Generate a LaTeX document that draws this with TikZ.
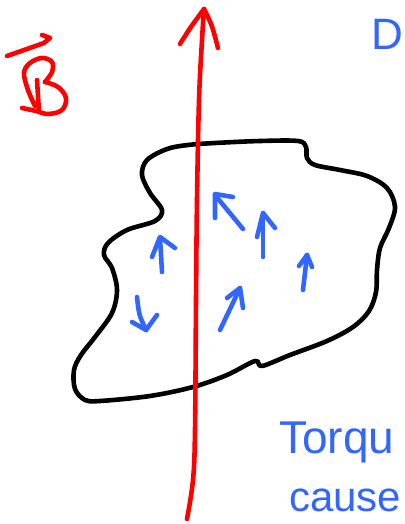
\documentclass[tikz,border=0pt]{standalone}
\usepackage{fontspec}
\setmainfont{Liberation Sans}
\definecolor{penblue}{RGB}{51,102,255}
\definecolor{penred}{RGB}{255,0,0}
\tikzset{
  ink/.style={line width=4.6pt, line cap=round, line join=round},
  loopline/.style={ink, black},
  redpen/.style={ink, penred},
  bluepen/.style={ink, penblue},
  handtext/.style={penblue, inner sep=0pt, anchor=base west, font=\fontsize{44}{44}\selectfont}
}
\begin{document}
\begin{tikzpicture}[x=1pt,y=-1pt]
\useasboundingbox (0,0) rectangle (404,524);
\clip (0,0) rectangle (404,524);
\fill[white] (0,0) rectangle (404,524);

% closed current loop
\draw[loopline] plot[smooth cycle, tension=0.55] coordinates {
 (188,145) (215,143) (260,141) (298,141) (306,147) (307,158) (315,165)
 (340,170) (367,176) (387,188) (395,207) (389,228) (380,248) (377,270)
 (376,292) (369,311) (353,327) (327,341) (290,355) (262,366) (255,361)
 (227,375) (193,387) (150,396) (100,401) (85,400) (75,389) (74,370)
 (81,355) (95,337) (112,313) (117,290) (112,268) (104,255) (108,243)
 (127,230) (155,221) (162,210) (150,193) (142,175) (147,160) (167,149)};

% red field vector B
\coordinate (rb) at (187,519);
\coordinate (rt) at (204,9);
\draw[redpen] plot[smooth, tension=0.6] coordinates {(187,519) (193,480) (195,430) (196,300) (197,200) (199,100) (202,40) (204,9)};
\draw[redpen] (180,44) .. controls (190,28) .. (rt) .. controls (212,25) .. (218,48);

% label B with arrow bar
\draw[redpen] (42,35) -- (50,38) -- (44,43) -- (7,56);
\draw[redpen] plot[smooth, tension=0.6] coordinates {(35,106) (28,90) (24,73) (30,63) (42,58) (52,62) (52,72) (45,82)};
\draw[redpen] plot[smooth, tension=0.6] coordinates {(45,82) (58,87) (66,98) (62,110) (48,114) (36,111) (22,108)};
\draw[redpen] (37,80) -- (39,112);

% blue magnetic moments
\draw[bluepen] (162,272) -- (160,238);
\draw[bluepen] (152,257) -- (160,237) -- (175,248);

\draw[bluepen] (137,297) .. controls (139,315) .. (146,330);
\draw[bluepen] (132,322) -- (146,330) -- (157,315);

\draw[bluepen] (243,229) -- (215,195);
\draw[bluepen] (215,218) -- (215,194) -- (233,197);

\draw[bluepen] (263,257) -- (263,213);
\draw[bluepen] (257,237) -- (263,213) -- (275,228);

\draw[bluepen] (303,290) -- (307,255);
\draw[bluepen] (299,266) -- (307,255) -- (312,267);

\draw[bluepen] (220,330) -- (240,288);
\draw[bluepen] (227,298) -- (240,288) -- (243,308);

% handwritten notes
\node[handtext] (dtext) at (371,50) {D};
\node[handtext, font=\fontsize{46}{46}\selectfont] (torq) at (279,453) {Torqu};
\node[handtext, font=\fontsize{42}{42}\selectfont] (cause) at (289,511) {cause};
\end{tikzpicture}
\end{document}
